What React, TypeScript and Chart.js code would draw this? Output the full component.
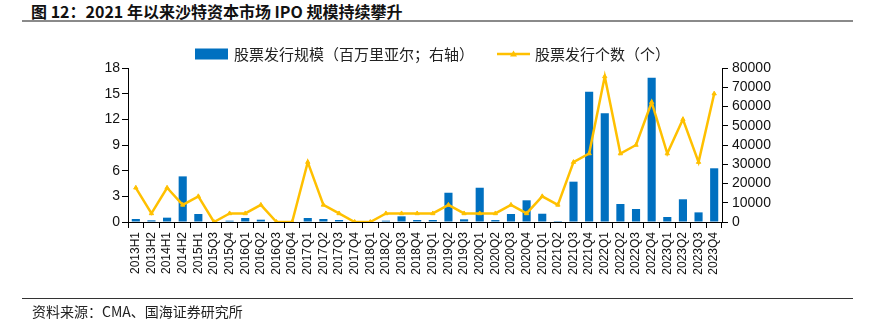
import React, { useEffect, useRef } from "react";
import { Chart, registerables } from "chart.js";

Chart.register(...registerables);

const categories = [
  "2013H1", "2013H2", "2014H1", "2014H2", "2015H1", "2015Q3", "2015Q4",
  "2016Q1", "2016Q2", "2016Q3", "2016Q4", "2017Q1", "2017Q2", "2017Q3", "2017Q4",
  "2018Q1", "2018Q2", "2018Q3", "2018Q4", "2019Q1", "2019Q2", "2019Q3",
  "2020Q1", "2020Q2", "2020Q3", "2020Q4", "2021Q1", "2021Q2", "2021Q3", "2021Q4",
  "2022Q1", "2022Q2", "2022Q3", "2022Q4", "2023Q1", "2023Q2", "2023Q3", "2023Q4",
];

// 股票发行规模（百万里亚尔；右轴）
const ipoAmount = [
  1560, 870, 2250, 23700, 4150, 0, 700,
  2080, 1200, 0, 0, 2080, 1560, 1040, 0,
  0, 700, 2950, 1040, 1040, 15200, 1390,
  17800, 1000, 4150, 11270, 4300, 500, 20950, 67700,
  56450, 9350, 6750, 75000, 2600, 11800, 5000, 27900,
];

// 股票发行个数（个）
const ipoCount = [
  4, 1, 4, 2, 3, 0, 1,
  1, 2, 0, 0, 7, 2, 1, 0,
  0, 1, 1, 1, 1, 2, 1,
  1, 1, 2, 1, 3, 2, 7, 8,
  17, 8, 9, 14, 8, 12, 7, 15,
];

const leftTicks = { min: 0, max: 18, step: 3 };
const rightTicks = { min: 0, max: 80000, step: 10000 };

const barLabel = "股票发行规模（百万里亚尔；右轴）";
const lineLabel = "股票发行个数（个）";
const titleText = "图 12：2021 年以来沙特资本市场 IPO 规模持续攀升";
const sourceText = "资料来源：CMA、国海证券研究所";

const BLUE = "#0070C0";
const GOLD = "#FFC000";
const CJK = "'Noto Sans CJK SC', 'Noto Sans', sans-serif";
const LATIN = "'Liberation Sans', Arial, sans-serif";

const legendPlugin = {
  id: "customLegend",
  afterDraw(chart: any) {
    const ctx = chart.ctx as CanvasRenderingContext2D;
    ctx.save();
    const y = 54;
    ctx.fillStyle = BLUE;
    ctx.fillRect(195, 48.5, 33, 11);
    ctx.font = `15px ${CJK}`;
    ctx.fillStyle = "#222";
    ctx.textBaseline = "middle";
    ctx.textAlign = "left";
    ctx.fillText(barLabel, 234, y);
    ctx.strokeStyle = GOLD;
    ctx.lineWidth = 2.5;
    ctx.beginPath();
    ctx.moveTo(497, y);
    ctx.lineTo(530, y);
    ctx.stroke();
    ctx.fillStyle = GOLD;
    const cx = 513.5;
    ctx.beginPath();
    ctx.moveTo(cx, y - 3.5);
    ctx.lineTo(cx + 3.5, y + 2.5);
    ctx.lineTo(cx - 3.5, y + 2.5);
    ctx.closePath();
    ctx.fill();
    ctx.fillStyle = "#222";
    ctx.fillText(lineLabel, 535, y);
    ctx.restore();
  },
};

export default function App() {
  const ref = useRef<HTMLCanvasElement | null>(null);

  useEffect(() => {
    if (!ref.current) return;
    const chart = new Chart(ref.current, {
      type: "bar",
      data: {
        labels: categories,
        datasets: [
          {
            type: "line",
            label: lineLabel,
            data: ipoCount,
            yAxisID: "y",
            borderColor: GOLD,
            backgroundColor: GOLD,
            borderWidth: 2.5,
            pointStyle: "triangle",
            pointRadius: 2.5,
            pointBorderWidth: 1,
            tension: 0,
            order: 0,
          } as any,
          {
            type: "bar",
            label: barLabel,
            data: ipoAmount,
            yAxisID: "y1",
            backgroundColor: BLUE,
            categoryPercentage: 1,
            barPercentage: 0.52,
            order: 1,
          },
        ],
      },
      options: {
        animation: false,
        responsive: false,
        maintainAspectRatio: false,
        layout: { padding: { top: 68, left: 0, right: 0, bottom: 0 } },
        plugins: {
          legend: { display: false },
          tooltip: { enabled: false },
          title: { display: false },
        },
        scales: {
          x: {
            offset: true,
            grid: {
              offset: true,
              drawOnChartArea: false,
              drawTicks: true,
              tickLength: 6,
              color: "#000",
            },
            border: { color: "#000", width: 1 },
            ticks: {
              autoSkip: false,
              maxRotation: 90,
              minRotation: 90,
              padding: 4,
              color: "#111",
              font: { family: LATIN, size: 12 },
            },
            afterFit: (s: any) => {
              s.height = 103;
            },
          },
          y: {
            position: "left",
            min: leftTicks.min,
            max: leftTicks.max,
            grid: { drawOnChartArea: false, tickLength: 6, color: "#000" },
            border: { color: "#000", width: 1 },
            ticks: {
              stepSize: leftTicks.step,
              autoSkip: false,
              padding: 2,
              color: "#111",
              font: { family: LATIN, size: 14 },
            },
            afterFit: (s: any) => {
              s.width = 128;
            },
          },
          y1: {
            position: "right",
            min: rightTicks.min,
            max: rightTicks.max,
            grid: { drawOnChartArea: false, tickLength: 6, color: "#000" },
            border: { color: "#000", width: 1 },
            ticks: {
              stepSize: rightTicks.step,
              autoSkip: false,
              padding: 4,
              color: "#111",
              font: { family: LATIN, size: 14 },
              callback: (v: any) => String(v),
            },
            afterFit: (s: any) => {
              s.width = 154;
            },
          },
        },
      },
      plugins: [legendPlugin],
    });
    return () => chart.destroy();
  }, []);

  return (
    <div
      style={{
        position: "fixed",
        left: 0,
        top: 0,
        width: 876,
        height: 325,
        background: "#fff",
        overflow: "hidden",
      }}
    >
      <div
        style={{
          position: "absolute",
          left: 31,
          top: 1,
          font: `bold 16px ${CJK}`,
          lineHeight: "20px",
          color: "#111",
          whiteSpace: "nowrap",
        }}
      >
        {titleText}
      </div>
      <div
        style={{
          position: "absolute",
          left: 22,
          top: 20,
          width: 831,
          height: 1.5,
          background: "#8a8a8a",
        }}
      />
      <canvas
        ref={ref}
        width={876}
        height={325}
        style={{ position: "absolute", left: 0, top: 0, width: 876, height: 325 }}
      />
      <div
        style={{
          position: "absolute",
          left: 22,
          top: 297.5,
          width: 831,
          height: 1,
          background: "#333",
        }}
      />
      <div
        style={{
          position: "absolute",
          left: 32,
          top: 302,
          font: `14px ${CJK}`,
          lineHeight: "18px",
          color: "#222",
          whiteSpace: "nowrap",
        }}
      >
        {sourceText}
      </div>
    </div>
  );
}
